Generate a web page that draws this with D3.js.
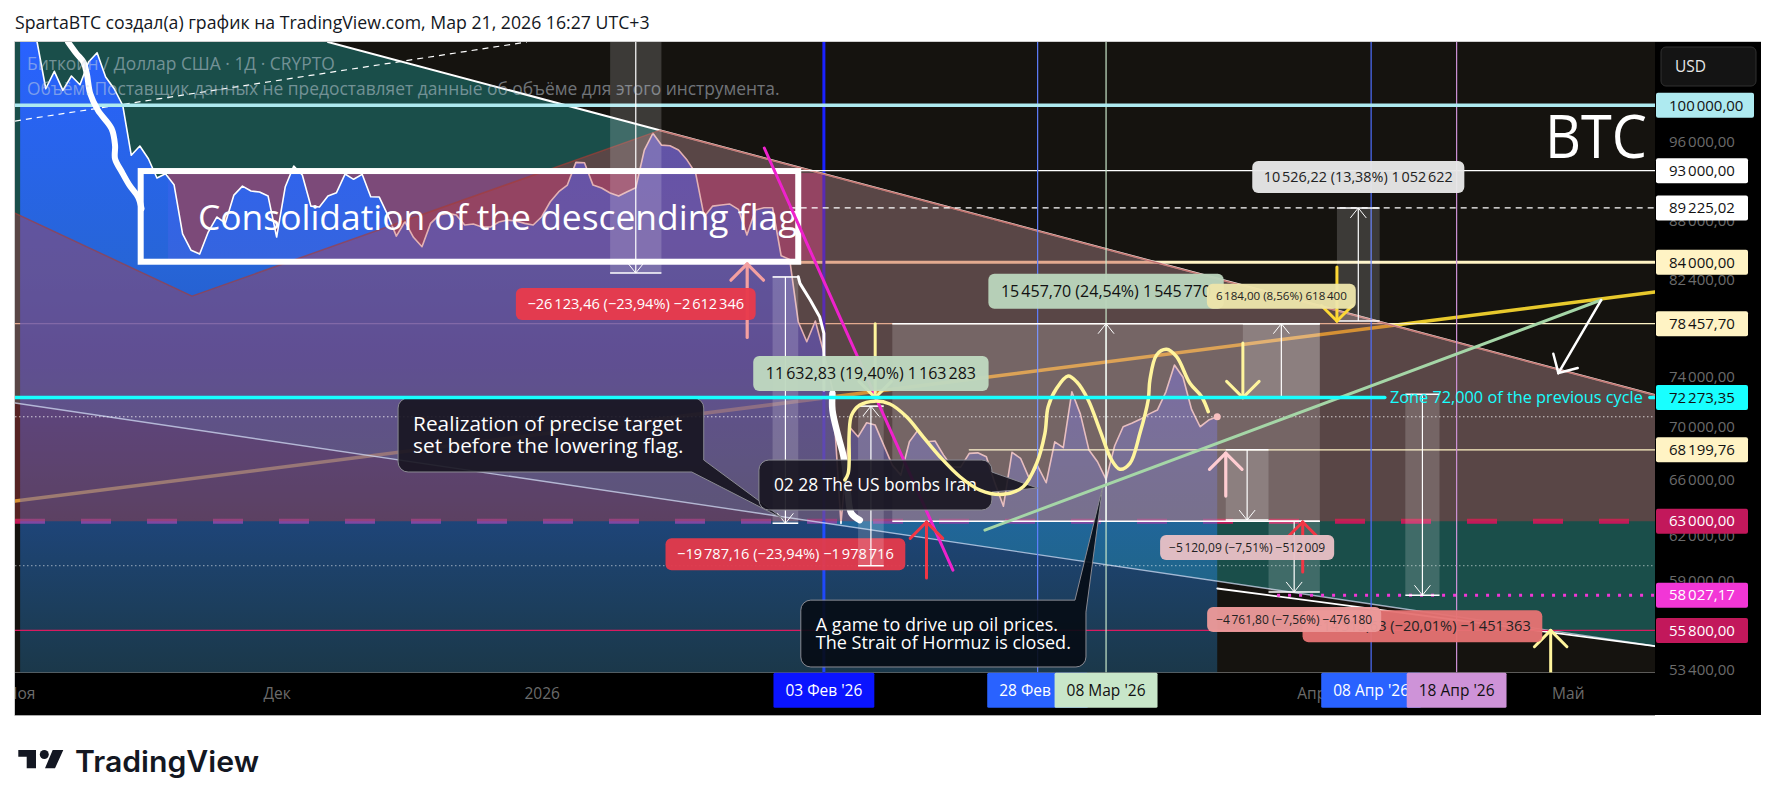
<!DOCTYPE html>
<html>
<head>
<meta charset="utf-8">
<script src="https://d3js.org/d3.v7.min.js"></script>
<style>
  html, body { margin: 0; padding: 0; background: #fff; }
  text { font-family: "Open Sans", sans-serif; }
</style>
</head>
<body>
<div id="chart"></div>
<script>
// daily closes
var novCloses = [110000,110500,107200,101860,103850,101680,103310,102320,104930,106020,103190,101860,100000,94600,95580,94240,92240,92680,91560,86700,85120,84770,86870,88330,87740,90510,91420,90920,90820,90410];
var decCloses = [86390,91320,93480,92550,89410,89320,90410,90750,92650,92110,92620,90340,90310,88520,86480,87870,86360,85460,87710,88520,88690,88520,87550,87650,87350,87350,87840,88030,87940,87710,87550];
var janCloses = [88360,89840,90850,91520,93860,93820,91520,91220,90720,90410,90850,91250,95150,96940,95680,95610,95150,94100,92750,88360,89410,89510,89610,89090,86580,89020,89250,89250,84610,84270,78630];
var febCloses = [76900,78690,75940,72960,62850,69950,69190,70280,70100,68560,67050,66310,68810,69710,68810,68870,67800,66920,66900,67930,67970,67680,65720,64060,68010,67560,66090,66980];
var marCloses = [65750,68810,68360,72740,70960,68180,67300,65990,68490,69970,70240,70550,70960,71280,72740,74940,73920,71330,69970,70490,70750];
var closes = novCloses.concat(decCloses, janCloses, febCloses, marCloses);
var firstDay = -61; // 1 Nov 2025, days counted from 1 Jan 2026

// axis ticks
var monthTicks = [-61, -31, 0, 90, 120];
var monthLabels = ["Ноя", "Дек", "2026", "Апр", "Май"];
var priceTicks = [96000, 88000, 82400, 74000, 70000, 66000, 62000, 59000, 56300, 53400];

// price levels
var levelPrices = [100000, 93000, 89225.02, 84000, 78457.70, 72273.35, 68199.76, 63000, 58027.17, 55800];
var lastPrice = 70750;
var dottedLevel = 59960;

// marked dates, days from 1 Jan 2026
var markDays = [33, 58, 66, 97, 107];
var markLabels = ["03 Фев '26", "28 Фев '26", "08 Мар '26", "08 Апр '26", "18 Апр '26"];

// measure tools: first and last day, from price, to price, text
var measureDays = [[8,14],[27,30],[37,40],[41,91],[82,91],[93,98],[80,85],[85,91],[101,105]];
var measurePrices = [[109123,83000],[82640,62853],[59960,71593],[63000,78457.7],[72273.7,78457.7],[78698.8,89225.02],[68199.76,63079.67],[63000,58238],[72540,58026]];
var measureTexts = [
  "\u221226\u202f123,46 (\u221223,94%) \u22122\u202f612\u202f346",
  "\u221219\u202f787,16 (\u221223,94%) \u22121\u202f978\u202f716",
  "11\u202f632,83 (19,40%) 1\u202f163\u202f283",
  "15\u202f457,70 (24,54%) 1\u202f545\u202f770",
  "6\u202f184,00 (8,56%) 618\u202f400",
  "10\u202f526,22 (13,38%) 1\u202f052\u202f622",
  "\u22125\u202f120,09 (\u22127,51%) \u2212512\u202f009",
  "\u22124\u202f761,80 (\u22127,56%) \u2212476\u202f180",
  "\u221214\u202f513,63 (\u221220,01%) \u22121\u202f451\u202f363"
];

// drawn trend lines, [day, price]
var upperLine = [[-61.6,107290],[-25,107290],[130.2,72480]];
var lowerLine = [[-61.6,71840],[130.2,54840]];
var orangeLine = [[-61.6,64420],[130.2,81270]];
var greenLine = [[51.83,62380],[123.9,80550]];
var magentaLine = [[26.03,95370],[48.09,59670]];
var dashedLine = [[-61.6,98270],[-1.74,107290]];
var flagEdge = [[-61.6,88720],[-40.9,80900],[13.8,97260],[130.2,72480]];
var flagBox = [[-46.9,92960],[30,84050]];
var pinkBand = [[-43.7,92750],[32.9,84200]];

// hand drawn strokes
var whiteStrokeA = [[-55.4,107290],[-54.4,105900],[-53.6,104930],[-53.2,103570],[-52.8,101300],[-51.9,99450],[-50.3,97430],[-49.9,95650],[-49.9,94240],[-49.1,92860],[-48.2,91490],[-47.2,90310],[-46.8,89150]];
var whiteStrokeB = [[30,82660],[30.2,82050],[31.4,80550],[32.5,79070],[33,77620],[33,72880]];
var whiteStrokeC = [[34,72610],[34,71280],[34.7,69190],[35.3,67680],[35.8,65000],[36.2,63570],[37.2,63080]];
var yellowStroke = [[35.46,65950],[35.84,66440],[35.96,67430],[35.96,69460],[36.24,70880],[37.21,71680],[38.96,71990],[40.72,71760],[42.67,70750],[44.61,69190],[46.57,67680],[48.91,66190],[51.25,65220],[53.97,64910],[56.31,65460],[57.88,67180],[58.85,69460],[59.23,71540],[60.22,73020],[61.57,74020],[62.56,73550],[63.91,72080],[65.28,69710],[66.65,67430],[67.62,66740],[68.79,67180],[69.96,69460],[70.93,72080],[71.13,73700],[71.91,75780],[73.08,76260],[74.25,75630],[75.81,73430],[77.18,72340],[77.95,71150]];

// arrows, [day, from price, to price] and one slanted
var pinkArrows = [[24.03,77270,83840],[80,64780,67950]];
var redArrows = [[45,59140,62940],[89,59540,62940]];
var paleArrows = [[39,78457.7,72273.35],[82,76790,72273.35],[118,53240,55800]];
var goldArrow = [93,83550,78690];
var whiteArrow = [[123.9,80550],[118.9,74270]];

// callouts: box corners, tip
var calloutBoxes = [[[-16.8,72240],[18.95,66540]],[[25.4,67430],[52.65,63790]],[[30.3,57710],[63.65,53580]]];
var calloutTips = [[28.3,63150],[58,65360],[65.6,65440]];
var calloutWedges = ["bottomRight","right","topRight"];
var calloutTexts = [["Realization of precise target","set before the lowering flag."],["02 28 The US bombs Iran"],["A game to drive up oil prices.","The Strait of Hormuz is closed."]];

var svgWidth = 1776, svgHeight = 808;
var left = 15, right = 1655, top_ = 42, bottom = 672.7, axisRight = 1761, axisBottom = 715;

var svg = d3.select("#chart").append("svg")
  .attr("width", svgWidth).attr("height", svgHeight)
  .style("display", "block");

function dayDate(d) { return new Date(Date.UTC(2026, 0, 1) + d * 864e5); }

var xScale = d3.scaleUtc().domain([dayDate(-61.6), dayDate(130.2)]).range([left, right]);
var yScale = d3.scaleLog().domain([107290, 53240]).range([top_, bottom]);
function X(d) { return xScale(dayDate(d)); }
var Y = yScale;

var ru = d3.formatLocale({ decimal: ",", thousands: "\u202f", grouping: [3] }).format(",.2f");

var defs = svg.append("defs");
defs.append("clipPath").attr("id", "plot").append("rect")
  .attr("x", left).attr("y", top_).attr("width", right - left).attr("height", bottom - top_);

var grad = defs.append("linearGradient").attr("id", "areaFill")
  .attr("gradientUnits", "userSpaceOnUse")
  .attr("x1", 0).attr("x2", 0).attr("y1", top_).attr("y2", bottom);
grad.append("stop").attr("offset", "0").attr("stop-color", "rgb(41,98,255)").attr("stop-opacity", 1);
grad.append("stop").attr("offset", "0.35").attr("stop-color", "rgb(41,105,240)").attr("stop-opacity", 0.85);
grad.append("stop").attr("offset", "0.5").attr("stop-color", "rgb(41,98,255)").attr("stop-opacity", 0.7);
grad.append("stop").attr("offset", "0.75").attr("stop-color", "rgb(41,130,255)").attr("stop-opacity", 0.45);
grad.append("stop").attr("offset", "1").attr("stop-color", "rgb(41,150,225)").attr("stop-opacity", 0.28);

var pt = d3.line().x(d => X(d[0])).y(d => Y(d[1]));
var smooth = d3.line().x(d => X(d[0])).y(d => Y(d[1])).curve(d3.curveCatmullRom.alpha(0.5));

var plot = svg.append("g").attr("clip-path", "url(#plot)");

function trend(g, pts, color, width, dash, gen) {
  return g.append("path").attr("d", (gen || pt)(pts)).attr("fill", "none")
    .attr("stroke", color).attr("stroke-width", width)
    .attr("stroke-dasharray", dash || null)
    .attr("stroke-linecap", dash ? null : "round").attr("stroke-linejoin", "round");
}
function hline(g, price, d0, color, width, dash) {
  return trend(g, [[d0, price], [130.2, price]], color, width, dash);
}
function arrow(g, from, to, color, width, len) {
  trend(g, [from, to], color, width);
  var x1 = X(from[0]), y1 = Y(from[1]), x2 = X(to[0]), y2 = Y(to[1]);
  var a = Math.atan2(y2 - y1, x2 - x1);
  [a + Math.PI * 0.75, a - Math.PI * 0.75].forEach(function (b) {
    g.append("line").attr("x1", x2).attr("y1", y2)
      .attr("x2", x2 + Math.cos(b) * len).attr("y2", y2 + Math.sin(b) * len)
      .attr("stroke", color).attr("stroke-width", width).attr("stroke-linecap", "round");
  });
}

// background and channel
plot.append("rect").attr("x", left).attr("y", top_).attr("width", right - left).attr("height", bottom - top_).attr("fill", "#15130f");
plot.append("path").attr("d", pt(upperLine.concat(lowerLine.slice().reverse())) + "Z").attr("fill", "#1a4e4a");
plot.append("rect")
  .attr("x", X(pinkBand[0][0])).attr("y", Y(pinkBand[0][1]))
  .attr("width", X(pinkBand[1][0]) - X(pinkBand[0][0])).attr("height", Y(pinkBand[1][1]) - Y(pinkBand[0][1]))
  .attr("fill", "rgba(215,70,165,0.52)");

// levels that sit under the price area
trend(plot, orangeLine, "#e8c92c", 3.5);
hline(plot, levelPrices[4], -61.6, "#fff3c4", 1.2);
hline(plot, levelPrices[3], 30, "#fff3c4", 3);
hline(plot, levelPrices[7], -61.6, "#c2185b", 5, "30,36");
plot.append("line").attr("x1", X(markDays[0])).attr("x2", X(markDays[0])).attr("y1", top_).attr("y2", bottom)
  .attr("stroke", "#1a22ff").attr("stroke-width", 3);

// price area and line
var priceData = closes.map((c, i) => [firstDay + i, c]);
var area = d3.area().x(d => X(d[0])).y0(bottom).y1(d => Y(d[1]));
plot.append("path").attr("d", area(priceData)).attr("fill", "url(#areaFill)");
trend(plot, priceData, "#ffffff", 1.6);
trend(plot, upperLine.slice(1), "#ffffff", 2);

// brown zone over everything so far
var zone = flagEdge.concat([[130.2, 63000], [-61.6, 63000]]);
plot.append("path").attr("d", pt(zone) + "Z").attr("fill", "rgba(186,60,66,0.4)");
trend(plot, flagEdge, "rgba(170,60,50,0.6)", 1.5);

// lower channel line, faint on the left
trend(plot, lowerLine, "rgba(214,224,248,0.72)", 1.4);
trend(plot, [[79, 58460], [130.2, 54840]], "#ffffff", 1.8);

// thin levels and vertical markers
hline(plot, lastPrice, -61.6, "rgba(255,255,255,0.75)", 1, "1.5,2.5");
hline(plot, dottedLevel, -61.6, "rgba(255,255,255,0.55)", 1, "1.5,2.5");
hline(plot, levelPrices[1], 30, "#ffffff", 1.2);
hline(plot, levelPrices[2], 29, "#ffffff", 1.2, "6,5");
hline(plot, levelPrices[6], 50, "#fff3c4", 1.2);
hline(plot, levelPrices[8], 86, "#f236d6", 3, "3,8");
hline(plot, levelPrices[9], -61.6, "#d81b60", 1.2);
var markLineColors = [null, "#5f7fff", "#c8e6c9", "#4f6fff", "#ce93d8"];
markDays.forEach(function (d, i) {
  if (i === 0) return;
  plot.append("line").attr("x1", X(d)).attr("x2", X(d)).attr("y1", top_).attr("y2", bottom)
    .attr("stroke", markLineColors[i]).attr("stroke-width", 1.2);
});
trend(plot, dashedLine, "#ffffff", 1.2, "6,5");
hline(plot, levelPrices[0], -61.6, "#aeeaf0", 3.5);

// measure tools
var labelColor = ["#e83a4c", "#e23a4c", "#bed9bf", "#bad4bb", "#ede5ab", "#e8e8e8", "#e7c0c5", "#ec9a9a", "#e57373"];
var labelInk = ["#fff", "#fff", "#111", "#111", "#222", "#222", "#222", "#222", "#222"];
var labelH = [32, 32, 35, 35, 25, 32, 25, 25, 32];
var labelFont = [14.6, 14.6, 16, 16, 11.6, 14.4, 12, 12, 14.6];

function measureLabel(i) {
  var cx = (X(measureDays[i][0]) + X(measureDays[i][1])) / 2;
  var up = measurePrices[i][1] > measurePrices[i][0];
  var yEnd = Y(measurePrices[i][1]);
  var y0 = up ? yEnd - 15 - labelH[i] : yEnd + 15;
  var g = plot.append("g");
  var box = g.append("rect").attr("rx", 6).attr("fill", labelColor[i]).attr("fill-opacity", 0.96);
  var t = g.append("text").attr("x", cx).attr("y", y0 + labelH[i] / 2).attr("dy", "0.35em")
    .attr("text-anchor", "middle").attr("fill", labelInk[i]).attr("font-size", labelFont[i])
    .text(measureTexts[i]);
  var w = t.node().getComputedTextLength() + 2 * labelH[i] * 0.36;
  box.attr("x", cx - w / 2).attr("y", y0).attr("width", w).attr("height", labelH[i]);
}
function measureShape(i) {
  var x0 = X(measureDays[i][0]), x1 = X(measureDays[i][1]), cx = (x0 + x1) / 2;
  var ya = Y(measurePrices[i][0]), yb = Y(measurePrices[i][1]);
  plot.append("rect").attr("x", x0).attr("width", x1 - x0)
    .attr("y", Math.min(ya, yb)).attr("height", Math.abs(yb - ya))
    .attr("fill", "rgba(255,255,255,0.17)");
  [ya, yb].forEach(function (yy) {
    plot.append("line").attr("x1", x0).attr("x2", x1).attr("y1", yy).attr("y2", yy)
      .attr("stroke", "#fff").attr("stroke-width", 1.6);
  });
  plot.append("line").attr("x1", cx).attr("x2", cx).attr("y1", ya).attr("y2", yb)
    .attr("stroke", "#fff").attr("stroke-width", 1.2);
  var s = yb > ya ? -1 : 1;
  plot.append("path").attr("d", "M" + (cx - 8) + "," + (yb + s * 10) + "L" + cx + "," + yb + "L" + (cx + 8) + "," + (yb + s * 10))
    .attr("fill", "none").attr("stroke", "#fff").attr("stroke-width", 1);
}
// the red label sits under the next measure
measureLabel(1);
measureDays.forEach((d, i) => measureShape(i));

// consolidation box
plot.append("rect")
  .attr("x", X(flagBox[0][0])).attr("y", Y(flagBox[0][1]))
  .attr("width", X(flagBox[1][0]) - X(flagBox[0][0])).attr("height", Y(flagBox[1][1]) - Y(flagBox[0][1]))
  .attr("fill", "none").attr("stroke", "#fff").attr("stroke-width", 6);
plot.append("text").attr("x", 198).attr("y", 230).attr("fill", "#fff").attr("font-size", 35.4)
  .text("Consolidation of the descending flag");
trend(plot, whiteStrokeA, "#ffffff", 6, null, smooth);

// strokes and lines that the callouts cover
trend(plot, magentaLine, "#ee22cc", 3);
trend(plot, whiteStrokeB, "#ffffff", 3);
trend(plot, whiteStrokeC, "#ffffff", 6.5, null, smooth);
arrow(plot, [pinkArrows[0][0], pinkArrows[0][1]], [pinkArrows[0][0], pinkArrows[0][2]], "#f4a0a0", 3.2, 23);
arrow(plot, [pinkArrows[1][0], pinkArrows[1][1]], [pinkArrows[1][0], pinkArrows[1][2]], "#ffcdd2", 3.2, 23);
redArrows.forEach(a => arrow(plot, [a[0], a[1]], [a[0], a[2]], "#f23645", 3, 23));
paleArrows.forEach(a => arrow(plot, [a[0], a[1]], [a[0], a[2]], "#fff59d", 3, 23));
arrow(plot, [goldArrow[0], goldArrow[1]], [goldArrow[0], goldArrow[2]], "#fdd835", 3, 22);

// callouts
var calloutFont = [20.8, 17.4, 18];
var calloutGap = [22, 22, 17.5];
calloutBoxes.forEach(function (b, i) {
  var x0 = X(b[0][0]), y0 = Y(b[0][1]), x1 = X(b[1][0]), y1 = Y(b[1][1]);
  var tx = X(calloutTips[i][0]), ty = Y(calloutTips[i][1]), r = 10, w = calloutWedges[i];
  var p = d3.path();
  p.moveTo(x0 + r, y0);
  if (w === "topRight") {
    p.lineTo(x1 - 11, y0); p.lineTo(tx, ty); p.lineTo(x1, y0 + 12);
  } else {
    p.lineTo(x1 - r, y0); p.arcTo(x1, y0, x1, y0 + r, r);
  }
  if (w === "right") { p.lineTo(x1, y0 + 12); p.lineTo(tx, ty); p.lineTo(x1, y0 + 32); }
  if (w === "bottomRight") {
    p.lineTo(x1, y1 - 12); p.lineTo(tx, ty); p.lineTo(x1 - 12, y1);
  } else {
    p.lineTo(x1, y1 - r); p.arcTo(x1, y1, x1 - r, y1, r);
  }
  p.lineTo(x0 + r, y1); p.arcTo(x0, y1, x0, y1 - r, r);
  p.lineTo(x0, y0 + r); p.arcTo(x0, y0, x0 + r, y0, r);
  p.closePath();
  plot.append("path").attr("d", p.toString()).attr("fill", i === 2 ? "#050b14" : "#16141f").attr("fill-opacity", 0.9)
    .attr("stroke", "#8a8a92").attr("stroke-width", 1);
  var lines = calloutTexts[i];
  lines.forEach(function (s, k) {
    plot.append("text").attr("x", x0 + 15).attr("y", (y0 + y1) / 2 + (k - (lines.length - 1) / 2) * calloutGap[i])
      .attr("dy", "0.35em").attr("fill", "#fff").attr("font-size", calloutFont[i]).text(s);
  });
});

// remaining lines above the callouts
trend(plot, greenLine, "#a5d6a7", 3);
arrow(plot, whiteArrow[0], whiteArrow[1], "#ffffff", 2.5, 20);
trend(plot, yellowStroke, "#fff59d", 3.5, null, smooth);
plot.append("circle").attr("cx", X(firstDay + closes.length - 1)).attr("cy", Y(lastPrice)).attr("r", 3.5).attr("fill", "#f8c0c0");

// cyan level, with a gap for its text
trend(plot, [[-61.6, levelPrices[5]], [98.6, levelPrices[5]]], "#18ffff", 3.5);
trend(plot, [[129.6, levelPrices[5]], [130.2, levelPrices[5]]], "#18ffff", 3.5);
plot.append("text").attr("x", X(99.2)).attr("y", Y(levelPrices[5])).attr("dy", "0.35em")
  .attr("fill", "#18ffff").attr("font-size", 16.3).text("Zone 72,000 of the previous cycle");

// labels over it all
measureDays.forEach(function (d, i) { if (i !== 1 && i !== 7 && i !== 4) measureLabel(i); });
measureLabel(4);
measureLabel(7);

plot.append("text").attr("x", 1545).attr("y", 158).attr("fill", "#fff").attr("font-size", 60)
  .attr("textLength", 102).attr("lengthAdjust", "spacingAndGlyphs").text("BTC");

// legend
plot.append("text").attr("x", 27).attr("y", 70).attr("fill", "rgba(205,215,225,0.5)").attr("font-size", 17.4)
  .text("Биткоин / Доллар США · 1Д · CRYPTO");
plot.append("text").attr("x", 27).attr("y", 95).attr("fill", "rgba(205,215,225,0.5)").attr("font-size", 17.4)
  .text("Объём: Поставщик данных не предоставляет данные об объёме для этого инструмента.");

// axis panels
svg.append("rect").attr("x", left).attr("y", bottom).attr("width", axisRight - left).attr("height", axisBottom - bottom).attr("fill", "#000");
svg.append("rect").attr("x", right).attr("y", top_).attr("width", axisRight - right).attr("height", axisBottom - top_).attr("fill", "#000");

var timeAxis = svg.append("g").attr("clip-path", "url(#timeClip)")
  .attr("transform", "translate(0," + bottom + ")")
  .call(d3.axisBottom(xScale).tickValues(monthTicks.map(dayDate))
    .tickFormat((d, i) => monthLabels[i]).tickSize(0).tickPadding(15));
timeAxis.select(".domain").remove();
timeAxis.selectAll("text").attr("fill", "#6b6b6b").style("font-size", "15.5px").style("font-family", '"Open Sans", sans-serif');
defs.append("clipPath").attr("id", "timeClip").append("rect")
  .attr("x", left).attr("y", 0).attr("width", right - left).attr("height", axisBottom - bottom);

var priceAxis = svg.append("g")
  .attr("transform", "translate(1669,0)")
  .call(d3.axisRight(yScale).tickValues(priceTicks).tickFormat(ru).tickSize(0).tickPadding(0));
priceAxis.select(".domain").remove();
priceAxis.selectAll("text").attr("fill", "#6b6b6b").style("font-size", "15px").style("font-family", '"Open Sans", sans-serif');

// date badges
var markColors = ["#0a14ff", "#2962ff", "#c8e6c9", "#2962ff", "#ce93d8"];
var markInk = ["#fff", "#fff", "#111", "#fff", "#111"];
markDays.forEach(function (d, i) {
  var g = svg.append("g");
  var box = g.append("rect").attr("y", bottom).attr("height", 35).attr("rx", 1.5).attr("fill", markColors[i]);
  var t = g.append("text").attr("x", X(d)).attr("y", bottom + 18).attr("dy", "0.35em").attr("text-anchor", "middle")
    .attr("fill", markInk[i]).attr("font-size", 15.5).text(markLabels[i]);
  var w = t.node().getComputedTextLength() + 24;
  box.attr("x", X(d) - w / 2).attr("width", w);
});

// price badges
var badgeColors = ["#aeeaf0", "#ffffff", "#ffffff", "#fff3c4", "#fff3c4", "#18ffff", "#fff3c4", "#c2185b", "#f236d6", "#c2185b"];
var badgeInk = ["#111", "#111", "#111", "#111", "#111", "#111", "#111", "#fff", "#fff", "#fff"];
levelPrices.forEach(function (p, i) {
  var yy = Y(p);
  svg.append("rect").attr("x", 1656).attr("y", yy - 12.5).attr("width", i === 0 ? 98 : 92).attr("height", 25)
    .attr("rx", 2).attr("fill", badgeColors[i]);
  svg.append("text").attr("x", 1669).attr("y", yy).attr("dy", "0.35em").attr("fill", badgeInk[i])
    .attr("font-size", 15).text(ru(p));
});

// currency box
svg.append("rect").attr("x", 1661).attr("y", 47).attr("width", 95).attr("height", 39).attr("rx", 5)
  .attr("fill", "#141414").attr("stroke", "#303030");
svg.append("text").attr("x", 1675).attr("y", 72).attr("fill", "#e8e8e8").attr("font-size", 15.5).text("USD");

// frame
svg.append("path").attr("d", `M${left - 0.5},${axisBottom}V${top_ - 0.5}H${axisRight}`).attr("fill", "none").attr("stroke", "#cfcfcf").attr("stroke-width", 1);
svg.append("line").attr("x1", left - 0.5).attr("x2", right).attr("y1", axisBottom + 0.5).attr("y2", axisBottom + 0.5).attr("stroke", "#aaa");

// header and footer
svg.append("text").attr("x", 15).attr("y", 29).attr("fill", "#131722").attr("font-size", 17.7)
  .text("SpartaBTC создал(а) график на TradingView.com, Мар 21, 2026 16:27 UTC+3");
svg.append("path").attr("d", "M18.3,750H36V768.3H26.7V756.7H18.3Z M45,768.3L52.7,750H63.3L55,768.3Z").attr("fill", "#131722");
svg.append("circle").attr("cx", 44.3).attr("cy", 754.5).attr("r", 4.5).attr("fill", "#131722");
svg.append("text").attr("x", 75).attr("y", 771.7).attr("fill", "#131722").attr("font-size", 29.5)
  .attr("textLength", 184).attr("lengthAdjust", "spacingAndGlyphs")
  .style("font-family", "Inter, sans-serif").style("font-weight", 600).text("TradingView");
</script>
</body>
</html>
